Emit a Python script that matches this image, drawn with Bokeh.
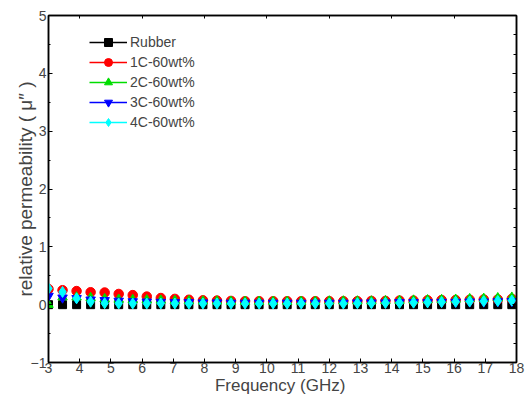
from bokeh.plotting import figure
from bokeh.models import (LinearAxis, Range1d, Legend, LegendItem, FixedTicker,
                          ColumnDataSource)
from bokeh.embed import file_html
from bokeh.resources import INLINE

# Frequency sweep (GHz)
freq = [3.0, 3.45, 3.9, 4.35, 4.8, 5.25, 5.7, 6.15, 6.6, 7.05, 7.5, 7.95,
        8.4, 8.85, 9.3, 9.75, 10.2, 10.65, 11.1, 11.55, 12.0, 12.45, 12.9,
        13.35, 13.8, 14.25, 14.7, 15.15, 15.6, 16.05, 16.5, 16.95, 17.4, 17.85]

# Imaginary part of relative permeability for each sample
rubber = [0.0, 0.0, 0.0, 0.0, 0.0, 0.0, 0.0, 0.0, 0.0, 0.0, 0.0, 0.0,
          0.0, 0.0, 0.0, 0.0, 0.0, 0.0, 0.0, 0.0, 0.0, 0.0, 0.0,
          0.0, 0.0, 0.0, 0.0, 0.0, 0.0, 0.0, 0.0, 0.0, 0.0, 0.0]
c1_60 = [0.27, 0.25, 0.235, 0.215, 0.21, 0.185, 0.165, 0.14, 0.115, 0.10, 0.085, 0.075,
         0.07, 0.065, 0.06, 0.06, 0.06, 0.06, 0.06, 0.06, 0.06, 0.06, 0.06,
         0.065, 0.065, 0.07, 0.07, 0.075, 0.08, 0.08, 0.085, 0.09, 0.09, 0.10]
c2_60 = [0.0, 0.13, 0.13, 0.12, 0.10, 0.09, 0.085, 0.08, 0.075, 0.07, 0.065, 0.06,
         0.06, 0.055, 0.055, 0.055, 0.055, 0.055, 0.055, 0.055, 0.06, 0.06, 0.06,
         0.06, 0.065, 0.07, 0.075, 0.08, 0.085, 0.09, 0.10, 0.105, 0.115, 0.125]
c3_60 = [0.15, 0.12, 0.11, 0.085, 0.075, 0.065, 0.055, 0.05, 0.045, 0.04, 0.04, 0.035,
         0.035, 0.03, 0.03, 0.03, 0.03, 0.03, 0.03, 0.03, 0.03, 0.03, 0.035,
         0.035, 0.035, 0.04, 0.04, 0.04, 0.045, 0.045, 0.05, 0.05, 0.055, 0.06]
c4_60 = [0.28, 0.22, 0.11, 0.05, 0.025, 0.02, 0.02, 0.02, 0.02, 0.02, 0.02, 0.02,
         0.02, 0.02, 0.02, 0.02, 0.02, 0.02, 0.02, 0.02, 0.02, 0.02, 0.025,
         0.025, 0.03, 0.03, 0.035, 0.04, 0.045, 0.05, 0.055, 0.06, 0.065, 0.07]

series_names = ["Rubber", "1C-60wt%", "2C-60wt%", "3C-60wt%", "4C-60wt%"]
series_values = [rubber, c1_60, c2_60, c3_60, c4_60]
series_colors = ["black", "red", "#00dd00", "blue", "cyan"]
series_markers = ["square", "circle", "triangle", "inverted_triangle", "diamond"]
marker_sizes = [8, 9.5, 9.5, 9.5, 11]

x_ticks = list(range(3, 19))
y_ticks = [-1, 0, 1, 2, 3, 4, 5]

FONT = "Liberation Sans"

p = figure(width=532, height=403, x_range=Range1d(3, 18), y_range=Range1d(-1, 5),
           output_backend="svg", toolbar_location=None,
           min_border_left=48, min_border_right=16, min_border_top=15,
           min_border_bottom=41)
p.grid.visible = False
p.outline_line_color = "black"
p.outline_line_width = 1.5
p.background_fill_color = "white"
p.border_fill_color = "white"

xa = p.xaxis[0]
ya = p.yaxis[0]
for ax in (xa, ya):
    ax.axis_line_width = 1.5
    ax.major_tick_in = 4
    ax.major_tick_out = 0
    ax.minor_tick_line_color = None
    ax.major_label_text_font = FONT
    ax.major_label_text_font_size = "14px"
    ax.axis_label_text_font = FONT
    ax.axis_label_text_font_style = "normal"

# bottom axis
xa.ticker = FixedTicker(ticks=x_ticks)
xa.axis_label = "Frequency  (GHz)"
xa.axis_label_text_font_size = "17px"
xa.major_label_standoff = 0
xa.axis_label_standoff = 0

# left axis
ya.ticker = FixedTicker(ticks=y_ticks, minor_ticks=[v / 2 for v in range(-2, 11)])
ya.minor_tick_line_color = "black"
ya.minor_tick_in = 2
ya.minor_tick_out = 0
ya.major_label_standoff = 2
ya.axis_label = "relative permeability ( \u03bc\u2033 )"
ya.axis_label_text_font_size = "19px"
ya.axis_label_standoff = -8

# right and top frame axes with inward ticks only, labels not painted
ra = LinearAxis(ticker=FixedTicker(ticks=y_ticks,
                                   minor_ticks=[k / 3 for k in range(-3, 16)]),
                major_label_text_font_size="1px", major_label_text_color=None,
                major_label_standoff=0,
                major_tick_in=4, major_tick_out=0, minor_tick_in=3, minor_tick_out=0,
                axis_line_width=1.5)
p.add_layout(ra, "right")
ta = LinearAxis(ticker=FixedTicker(ticks=[4, 6, 8, 10, 12, 14, 16, 18]),
                major_label_text_font_size="1px", major_label_text_color=None,
                major_label_standoff=0,
                major_tick_in=3, major_tick_out=0, minor_tick_line_color=None,
                axis_line_width=1.5)
p.add_layout(ta, "above")

nan = float("nan")
items = []
for name, vals, col, mk, sz in zip(series_names, series_values, series_colors,
                                   series_markers, marker_sizes):
    src = ColumnDataSource(dict(x=freq, y=vals))
    sc = p.scatter("x", "y", source=src, marker=mk, size=sz, fill_color=col,
                   line_color=col)
    # legend-only line stroke (no points of its own)
    ln = p.line(x=[nan], y=[nan], line_color=col, line_width=1.5)
    items.append(LegendItem(label=name, renderers=[ln, sc]))

legend = Legend(items=items, location=(41, 230), glyph_width=38, glyph_height=20,
                label_height=20, spacing=0, padding=0, margin=0, label_standoff=3,
                label_text_font=FONT, label_text_font_size="14px",
                border_line_color=None, background_fill_alpha=0)
p.add_layout(legend)

open("out.html", "w").write(file_html(p, INLINE))
